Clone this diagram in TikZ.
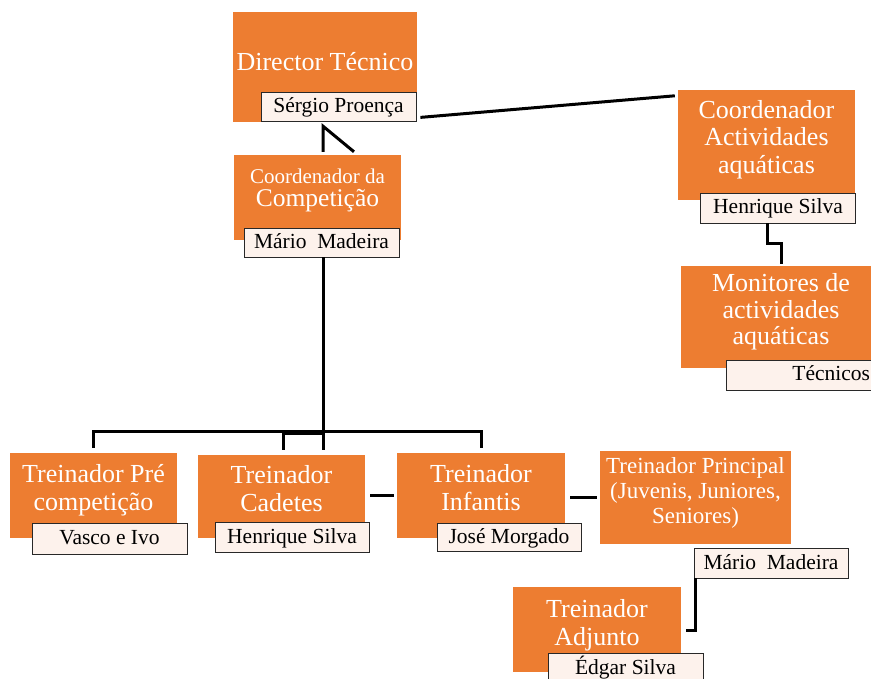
\documentclass[tikz,border=0pt]{standalone}
\usepackage{fontspec}
\setmainfont{Liberation Serif}
\usetikzlibrary{calc}
\definecolor{roleorange}{RGB}{237,125,49}
\definecolor{namefill}{RGB}{253,242,236}
\definecolor{namedraw}{RGB}{40,40,40}
% raise the text of a box a little, keeping its size for the centring
\newcommand{\lift}[2]{\raisebox{#1}[\height][\depth]{\begin{tabular}{@{}c@{}}#2\end{tabular}}}
\tikzset{
  rolebox/.style={rectangle, fill=roleorange, text=white, inner sep=0pt,
    font=\fontsize{26}{28}\selectfont},
  namebox/.style={rectangle, draw=namedraw, fill=namefill, line width=0.8pt,
    inner sep=0pt, minimum width=155pt, minimum height=29pt,
    text height=15pt, text depth=3pt, font=\fontsize{21.5}{24}\selectfont},
  conn/.style={line width=3pt, color=black}
}

\begin{document}
\begin{tikzpicture}[x=1pt, y=-1pt]
  \clip (0,0) rectangle (871,679);

  % role boxes
  \node[rolebox, minimum width=184pt, minimum height=110pt] (dir) at (325,67)
    {\lift{2.5pt}{Director Técnico}};
  \node[rolebox, minimum width=167pt, minimum height=85pt,
    font=\fontsize{25.5}{22}\selectfont] (coord) at (317.5,197.5)
    {\lift{7pt}{{\fontsize{21}{22}\selectfont Coordenador da}\\[-1.5pt]Competição}};
  \node[rolebox, minimum width=177pt, minimum height=110pt,
    font=\fontsize{26}{27.5}\selectfont] (aqua) at (766.5,145)
    {\lift{4.5pt}{Coordenador\\Actividades\\aquáticas}};
  \node[rolebox, minimum width=200pt, minimum height=102pt,
    font=\fontsize{26}{26.5}\selectfont] (moni) at (781,317)
    {\lift{4pt}{Monitores de\\actividades\\aquáticas}};
  \node[rolebox, minimum width=167pt, minimum height=85pt] (pre) at (93.5,495.5)
    {\lift{4.5pt}{Treinador Pré\\competição}};
  \node[rolebox, minimum width=167pt, minimum height=83pt] (cad) at (281.5,496.5)
    {\lift{4.5pt}{Treinador\\Cadetes}};
  \node[rolebox, minimum width=168pt, minimum height=85pt] (inf) at (481,495.5)
    {\lift{5pt}{Treinador\\Infantis}};
  \node[rolebox, minimum width=191pt, minimum height=93pt,
    font=\fontsize{23}{25}\selectfont] (prin) at (695.5,497.5)
    {\lift{4pt}{Treinador Principal\\(Juvenis, Juniores,\\Seniores)}};
  \node[rolebox, minimum width=168pt, minimum height=85pt] (adj) at (597,629.5)
    {\lift{4pt}{Treinador\\Adjunto}};

  % name boxes
  \node[namebox] (sergio) at (338.5,106.5) {Sérgio Proença};
  \node[namebox] (mario1) at (321.5,242.5) {Mário\ \ Madeira};
  \node[namebox, minimum height=30pt] (henr1) at (778,208) {Henrique Silva};
  \node[namebox, minimum width=154pt, minimum height=30pt, text width=134pt,
    align=right] (tec) at (803,375) {Técnicos};
  \node[namebox, minimum height=31pt] (vasco) at (109.5,538.5) {Vasco e Ivo};
  \node[namebox, minimum width=154pt, minimum height=30pt] (henr2) at (292,537) {Henrique Silva};
  \node[namebox, minimum width=144pt, minimum height=28pt] (jose) at (509,537) {José Morgado};
  \node[namebox, minimum width=154pt, minimum height=30pt] (mario2) at (771,563) {Mário\ \ Madeira};
  \node[namebox, minimum height=30pt] (edgar) at (625.5,668) {Édgar Silva};

  % connectors
  \draw[conn] ($(coord.north)+(5.5,-3)$) -- ($(coord.north |- dir.south)+(5.5,4)$)
    -- ($(coord.north)+(36.5,-3)$);
  \draw[conn] ($(sergio.south east)+(4,-4)$) -- ($(aqua.north west)+(-3,6)$);
  \draw[conn] ($(henr1.south)+(-11,0)$) |- ($(moni.north)+(0,-22)$) -- ($(moni.north)+(0,-2)$);

  \coordinate (bus) at ($(mario1.south)+(1.5,174)$);
  \draw[conn] ($(mario1.south)+(1.5,0)$) -- ($(bus)+(0,19)$);
  \draw[conn] ($(pre.north)+(0,-5)$) -- (pre.north |- bus) -- (inf.north |- bus)
    -- ($(inf.north)+(0,-5)$);
  \draw[conn] ($(cad.north)+(1.5,-5)$) -- ($(cad.north |- bus)+(1.5,2)$) -- ($(bus)+(0,2)$);
  \draw[conn] ($(cad.east)+(5,-1)$) -- ($(inf.west)+(-3,0)$);
  \draw[conn] ($(inf.east)+(5,1.5)$) -- ($(prin.west)+(-3,-0.5)$);
  \draw[conn] ($(mario2.south west)+(2,0)$) |- ($(adj.east)+(5,0.5)$);
\end{tikzpicture}
\end{document}
